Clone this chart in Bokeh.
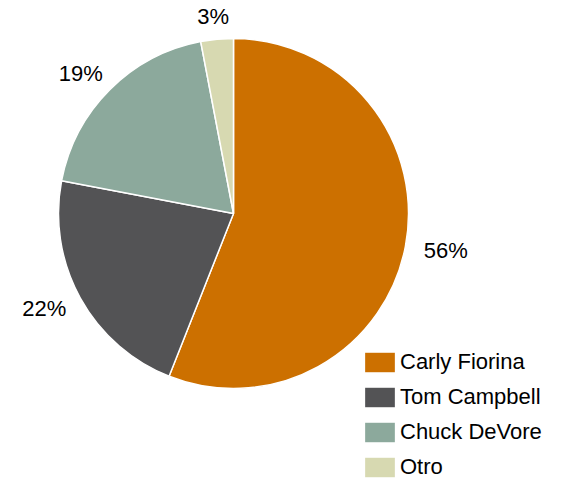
import numpy as np
from bokeh.plotting import figure
from bokeh.models import ColumnDataSource, Legend, LegendItem, Range1d
from bokeh.embed import file_html
from bokeh.resources import INLINE
from bokeh.core.properties import value

candidates = ["Carly Fiorina", "Tom Campbell", "Chuck DeVore", "Otro"]
shares = [56, 22, 19, 3]
pct_labels = ["56%", "22%", "19%", "3%"]
colors = ["#CC7000", "#535355", "#8CA99C", "#D7D9B1"]

W, H = 561, 482
p = figure(width=W, height=H, x_range=Range1d(0, W), y_range=Range1d(0, H),
           output_backend="svg", toolbar_location=None,
           x_axis_type=None, y_axis_type=None, min_border=0,
           outline_line_color=None)
p.grid.visible = False

cx, cy, r = 233, H - 213, 175
vals = np.array(shares, dtype=float)
frac = vals / vals.sum()
cum = np.concatenate([[0], np.cumsum(frac)])
start = np.pi / 2 - 2 * np.pi * cum[:-1]
end = np.pi / 2 - 2 * np.pi * cum[1:]
mid = (start + end) / 2

src = ColumnDataSource(dict(
    start=start, end=end, color=colors, name=candidates,
    lx=cx + 216 * np.cos(mid), ly=cy + 198 * np.sin(mid), lab=pct_labels,
))

wr = p.wedge(x=cx, y=cy, radius=r, start_angle="start", end_angle="end",
             direction="clock", fill_color="color", line_color="white",
             line_width=1.5, source=src)

p.text(x="lx", y="ly", text="lab", source=src, text_align="center",
       text_baseline="middle", text_font=value("Liberation Sans"),
       text_font_size="22px", text_color="#000000")

items = [LegendItem(label=c, renderers=[wr], index=i) for i, c in enumerate(candidates)]
legend = Legend(items=items, location=(360, 2), orientation="vertical",
                glyph_width=39, glyph_height=26, label_standoff=1, spacing=9,
                padding=0, margin=0, border_line_color=None,
                background_fill_alpha=0, label_text_font="Liberation Sans",
                label_text_font_size="22px", label_text_color="#000000")
p.add_layout(legend)

open("out.html", "w").write(file_html(p, INLINE))
